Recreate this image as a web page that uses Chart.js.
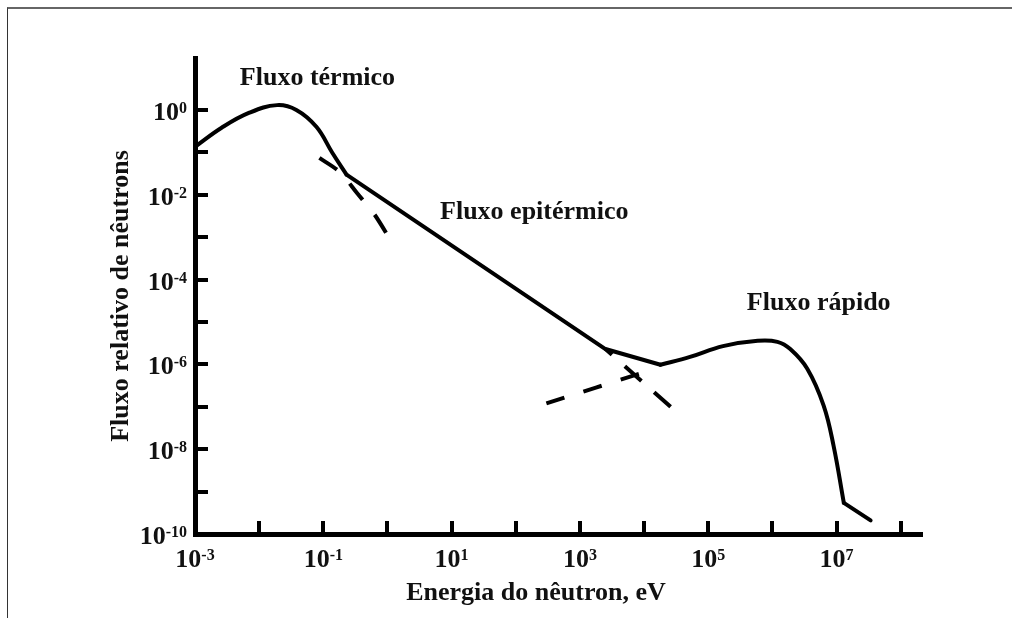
<!DOCTYPE html>
<html>
<head>
<meta charset="utf-8">
<script src="https://cdn.jsdelivr.net/npm/chart.js@4/dist/chart.umd.min.js"></script>
<style>
  html, body { margin: 0; padding: 0; background: #fff; }
  #wrap { position: relative; width: 1012px; height: 618px; overflow: hidden; }
  #frame { position: absolute; left: 7px; top: 7px; width: 1020px; height: 620px;
           border-top: 2px solid #666; border-left: 1px solid #333; pointer-events: none; }
  canvas { position: absolute; left: 0; top: 0; }
</style>
</head>
<body>
<div id="wrap">
  <canvas id="chart" width="1012" height="618"></canvas>
  <div id="frame"></div>
</div>
<script>
// --- DATA ---
// Solid curve, split where the figure has sharp corners
const thermalEnergy = [0.001, 0.0026, 0.0069, 0.019, 0.038, 0.078, 0.138, 0.23];
const thermalFlux   = [0.135, 0.38, 0.85, 1.3, 1.0, 0.40, 0.098, 0.030];

const epiEnergy = [0.23, 2500, 18000];
const epiFlux   = [0.030, 2.3e-6, 9.8e-7];

const fastEnergy = [18000, 5.2e4, 1.7e5, 5.9e5, 1.2e6, 1.9e6, 3.5e6, 6.3e6, 9e6, 1.3e7];
const fastFlux   = [9.8e-7, 1.5e-6, 2.7e-6, 3.6e-6, 3.4e-6, 2.3e-6, 7.9e-7, 1.07e-7, 1.2e-8, 5.4e-10];

const tailEnergy = [1.3e7, 3.4e7];
const tailFlux   = [5.4e-10, 2.1e-10];

// Dashed extrapolations
const maxwellExtEnergy = [0.087, 0.178, 0.34, 0.63, 1.15];
const maxwellExtFlux   = [0.074, 0.035, 0.0107, 3.4e-3, 7.9e-4];

const epiExtEnergy = [2500, 2.6e4];
const epiExtFlux   = [2.3e-6, 1.0e-7];

const fastExtEnergy = [300, 1.05e4];
const fastExtFlux   = [1.2e-7, 6.7e-7];

// Axis ticks (powers of ten)
const xTickExps  = [-2, -1, 0, 1, 2, 3, 4, 5, 6, 7, 8];
const xLabelExps = [-3, -1, 1, 3, 5, 7];
const yTickExps  = [-9, -8, -7, -6, -5, -4, -3, -2, -1, 0];
const yLabelExps = [0, -2, -4, -6, -8, -10];

// Region labels, anchored in data coordinates (left edge, baseline)
const regionTexts  = ['Fluxo térmico', 'Fluxo epitérmico', 'Fluxo rápido'];
const regionEnergy = [5.0e-3, 6.6, 4.0e5];
const regionFlux   = [3.9, 2.7e-3, 1.95e-5];

const xTitle = 'Energia do nêutron, eV';
const yTitle = 'Fluxo relativo de nêutrons';

// --- HELPERS ---
const SERIF = '"Liberation Serif", "Times New Roman", "DejaVu Serif", serif';
const toPoints = (xs, ys) => xs.map((x, i) => ({ x: x, y: ys[i] }));

function solid(xs, ys, smooth) {
    return {
        data: toPoints(xs, ys),
        borderColor: '#000',
        borderWidth: 4,
        pointRadius: 0,
        borderCapStyle: 'round',
        borderJoinStyle: 'round',
        tension: smooth ? 0.4 : 0,
        fill: false
    };
}

function dashed(xs, ys, dash, offset) {
    return {
        data: toPoints(xs, ys),
        borderColor: '#000',
        borderWidth: 4,
        pointRadius: 0,
        borderDash: dash,
        borderDashOffset: offset || 0,
        borderCapStyle: 'butt',
        tension: 0.3,
        fill: false
    };
}

// Power-of-ten label: "10" plus a raised exponent
function drawPow(ctx, exp, x, baseline, align) {
    const base = '10', sup = String(exp);
    ctx.font = `bold 26px ${SERIF}`;
    const wb = ctx.measureText(base).width;
    ctx.font = `bold 16px ${SERIF}`;
    const ws = ctx.measureText(sup).width;
    let left = x;
    if (align === 'right') left = x - wb - ws;
    if (align === 'center') left = x - (wb + ws) / 2;
    ctx.textAlign = 'left';
    ctx.textBaseline = 'alphabetic';
    ctx.font = `bold 26px ${SERIF}`;
    ctx.fillText(base, left, baseline);
    ctx.font = `bold 16px ${SERIF}`;
    ctx.fillText(sup, left + wb, baseline - 7);
}

// --- PLUGIN: inward tick marks, tick labels, titles, region labels ---
const decorPlugin = {
    id: 'decor',
    afterDraw(chart) {
        const { ctx, chartArea: area } = chart;
        const xs = chart.scales.x, ys = chart.scales.y;
        ctx.save();
        ctx.strokeStyle = '#000';
        ctx.fillStyle = '#111';
        ctx.lineWidth = 4;
        ctx.lineCap = 'butt';

        xTickExps.forEach(e => {
            const px = Math.round(xs.getPixelForValue(Math.pow(10, e)));
            ctx.beginPath();
            ctx.moveTo(px, area.bottom);
            ctx.lineTo(px, area.bottom - 13);
            ctx.stroke();
        });
        yTickExps.forEach(e => {
            const py = Math.round(ys.getPixelForValue(Math.pow(10, e)));
            ctx.beginPath();
            ctx.moveTo(area.left, py);
            ctx.lineTo(area.left + 13, py);
            ctx.stroke();
        });

        xLabelExps.forEach(e => {
            const px = xs.getPixelForValue(Math.pow(10, e));
            drawPow(ctx, e, px, area.bottom + 33, 'center');
        });
        yLabelExps.forEach(e => {
            const py = ys.getPixelForValue(Math.pow(10, e));
            drawPow(ctx, e, area.left - 8, py + 10, 'right');
        });

        // region labels
        ctx.font = `bold 26px ${SERIF}`;
        ctx.textAlign = 'left';
        ctx.textBaseline = 'alphabetic';
        regionTexts.forEach((t, i) => {
            ctx.fillText(t, xs.getPixelForValue(regionEnergy[i]), ys.getPixelForValue(regionFlux[i]));
        });

        // axis titles
        ctx.textAlign = 'center';
        ctx.fillText(xTitle, 536, 600);
        ctx.translate(128, (area.top + area.bottom) / 2);
        ctx.rotate(-Math.PI / 2);
        ctx.fillText(yTitle, 0, 0);
        ctx.restore();
    }
};

// --- CHART ---
new Chart(document.getElementById('chart').getContext('2d'), {
    type: 'line',
    data: {
        datasets: [
            dashed(maxwellExtEnergy, maxwellExtFlux, [21, 19], 0),
            dashed(epiExtEnergy, epiExtFlux, [22, 17], 13),
            dashed(fastExtEnergy, fastExtFlux, [19, 20], 0),
            solid(thermalEnergy, thermalFlux, true),
            solid(epiEnergy, epiFlux, false),
            solid(fastEnergy, fastFlux, true),
            solid(tailEnergy, tailFlux, false)
        ]
    },
    options: {
        responsive: false,
        animation: false,
        devicePixelRatio: 1,
        layout: { padding: { left: 0, top: 58, right: 90, bottom: 0 } },
        plugins: { legend: { display: false }, tooltip: { enabled: false } },
        scales: {
            x: {
                type: 'logarithmic',
                position: 'bottom',
                min: 1e-3,
                max: 2.15e8,
                grid: { display: false },
                border: { display: true, color: '#000', width: 5 },
                ticks: { display: false },
                afterFit(s) { s.height = 84; }
            },
            y: {
                type: 'logarithmic',
                position: 'left',
                min: 1e-10,
                max: 16.8,
                grid: { display: false },
                border: { display: true, color: '#000', width: 5 },
                ticks: { display: false },
                afterFit(s) { s.width = 195; }
            }
        }
    },
    plugins: [decorPlugin]
});
</script>
</body>
</html>
